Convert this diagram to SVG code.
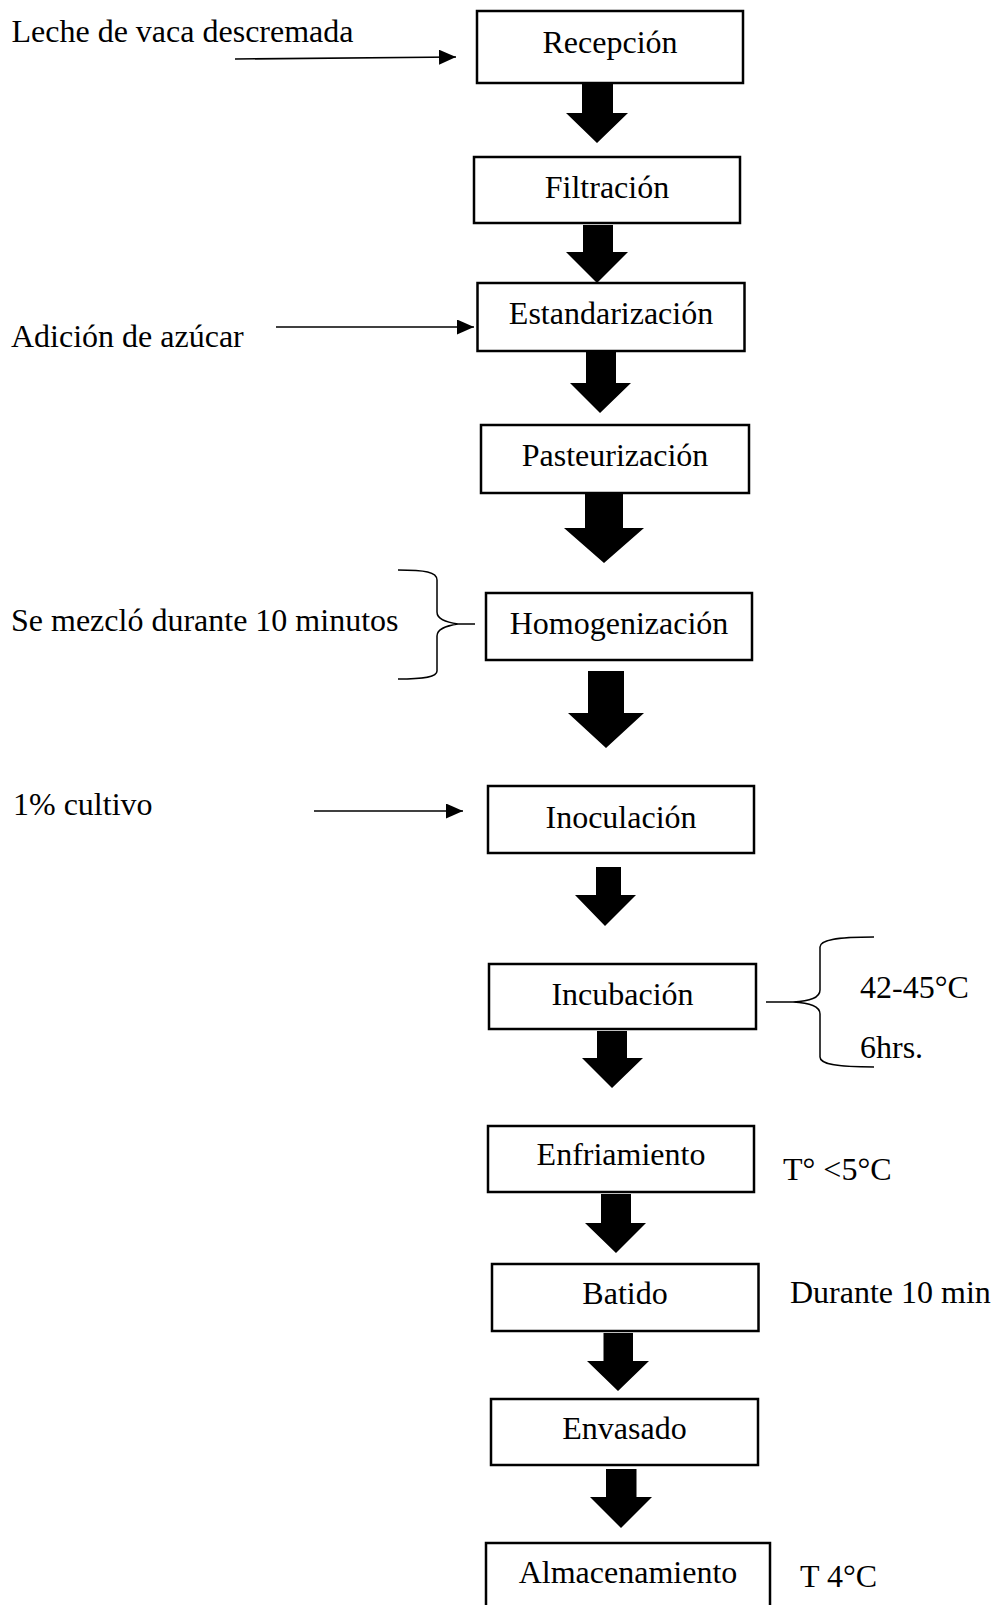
<svg xmlns="http://www.w3.org/2000/svg" width="995" height="1605" viewBox="0 0 995 1605">
<style>
text{font-family:"Liberation Serif","Times New Roman",serif;font-size:32px;fill:#000}
.box{fill:#fff;stroke:#000;stroke-width:2.5}
.lbl{text-anchor:middle}
.thin{stroke:#000;stroke-width:1.6;fill:none}
.brace{stroke:#000;stroke-width:1.5;fill:none}
.fat{fill:#000}
</style>
<defs>
<marker id="ah" markerUnits="userSpaceOnUse" markerWidth="17" markerHeight="15" refX="17" refY="7.5" orient="auto">
<path d="M0,0 L17,7.5 L0,15 z" fill="#000"/>
</marker>
</defs>
<g id="annotations">
<text x="11.5" y="42">Leche de vaca descremada</text>
<text x="11" y="347">Adición de azúcar</text>
<text x="11" y="631">Se mezcló durante 10 minutos</text>
<text x="13" y="815">1% cultivo</text>
<text x="860" y="998">42-45°C</text>
<text x="860" y="1058">6hrs.</text>
<text x="783" y="1180">T° &lt;5°C</text>
<text x="790" y="1303">Durante 10 min</text>
<text x="800" y="1587">T 4°C</text>
</g>
<g id="n1"><rect class="box" x="477" y="11" width="266" height="72"/><text class="lbl" x="610" y="53">Recepción</text></g>
<g id="n2"><rect class="box" x="474" y="157" width="266" height="66"/><text class="lbl" x="607" y="198">Filtración</text></g>
<g id="n3"><rect class="box" x="477.5" y="283" width="267" height="68"/><text class="lbl" x="611" y="324">Estandarización</text></g>
<g id="n4"><rect class="box" x="481" y="425" width="268" height="68"/><text class="lbl" x="615" y="466">Pasteurización</text></g>
<g id="n5"><rect class="box" x="486" y="593" width="266" height="67"/><text class="lbl" x="619" y="634">Homogenización</text></g>
<g id="n6"><rect class="box" x="488" y="786" width="266" height="67"/><text class="lbl" x="621" y="828">Inoculación</text></g>
<g id="n7"><rect class="box" x="489" y="964" width="267" height="65"/><text class="lbl" x="622.5" y="1005">Incubación</text></g>
<g id="n8"><rect class="box" x="488" y="1126" width="266" height="66"/><text class="lbl" x="621" y="1165">Enfriamiento</text></g>
<g id="n9"><rect class="box" x="492" y="1264" width="266.5" height="67"/><text class="lbl" x="625" y="1304">Batido</text></g>
<g id="n10"><rect class="box" x="491" y="1399" width="267" height="66"/><text class="lbl" x="624.5" y="1439">Envasado</text></g>
<g id="n11"><rect class="box" x="486" y="1543" width="284" height="70"/><text class="lbl" x="628" y="1583">Almacenamiento</text></g>
<g id="connectors">
<line class="thin" x1="235" y1="59" x2="456" y2="57" marker-end="url(#ah)"/>
<line class="thin" x1="276" y1="327" x2="474" y2="327" marker-end="url(#ah)"/>
<line class="thin" x1="314" y1="811" x2="463" y2="811" marker-end="url(#ah)"/>
<path class="brace" d="M398,570 C425,570 437,572 437,580 L437,612 C437,619 445,622 458,624 L475,624 M458,624 C445,626 437,629 437,636 L437,671 C437,677 425,679 398,679"/>
<path class="brace" d="M766,1002 L793,1002 C810,1001 820,998 820,990 L820,947 C820,940 835,937 874,937 M793,1002 C810,1003 820,1006 820,1014 L820,1057 C820,1064 835,1067 874,1067"/>
<polygon class="fat" points="582,84 613,84 613,113 628,113 597,143 566,113 582,113"/>
<polygon class="fat" points="583,225 613,225 613,252 628,252 597,283 566,252 583,252"/>
<polygon class="fat" points="586,352 616,352 616,383 631,383 600,413 570,383 586,383"/>
<polygon class="fat" points="585,494 623,494 623,528 644,528 604,563 564,528 585,528"/>
<polygon class="fat" points="588,671 624,671 624,713 644,713 606,748 568,713 588,713"/>
<polygon class="fat" points="596,867 621,867 621,895 636,895 605,926 575,895 596,895"/>
<polygon class="fat" points="597,1031 627,1031 627,1058 643,1058 612,1088 582,1058 597,1058"/>
<polygon class="fat" points="601,1194 631,1194 631,1223 646,1223 616,1253 585,1223 601,1223"/>
<polygon class="fat" points="603.5,1333 633,1333 633,1361 649,1361 618,1391 587,1361 603.5,1361"/>
<polygon class="fat" points="606,1469 636.5,1469 636.5,1497 652,1497 621,1528 590,1497 606,1497"/>
</g>
</svg>
